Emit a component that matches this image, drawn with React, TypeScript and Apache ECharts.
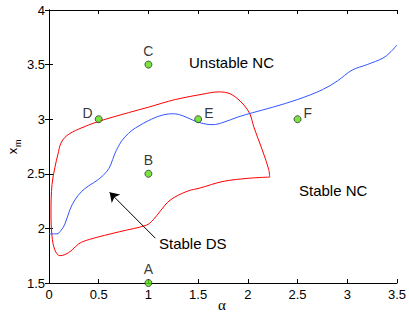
import React, { useEffect, useRef } from "react";
import * as echarts from "echarts";

const xTicks = [0, 0.5, 1, 1.5, 2, 2.5, 3, 3.5];
const yTicks = [1.5, 2, 2.5, 3, 3.5, 4];

const blueCurve: [number, number][] = [
  [0, 1.95], [0.08, 1.95], [0.12, 1.98], [0.16, 2.04], [0.21, 2.17], [0.26, 2.26],
  [0.33, 2.34], [0.4, 2.39], [0.5, 2.45], [0.58, 2.52], [0.62, 2.58], [0.66, 2.68],
  [0.73, 2.8], [0.8, 2.87], [0.87, 2.92], [1.03, 3.0], [1.15, 3.04], [1.25, 3.05],
  [1.35, 3.03], [1.45, 2.99], [1.55, 2.96], [1.65, 2.95], [1.75, 2.97], [1.9, 3.02],
  [2.05, 3.06], [2.25, 3.11], [2.5, 3.18], [2.75, 3.27], [2.9, 3.35], [3.05, 3.45],
  [3.2, 3.5], [3.36, 3.56], [3.43, 3.61], [3.5, 3.68],
];

const redCurve: [number, number][] = [
  [2.22, 2.47], [2.21, 2.54], [2.16, 2.68], [2.1, 2.83], [2.06, 2.93], [2.02, 3.05],
  [1.96, 3.13], [1.88, 3.2], [1.8, 3.24], [1.7, 3.25], [1.55, 3.23], [1.27, 3.18],
  [1.0, 3.11], [0.8, 3.06], [0.5, 2.98], [0.3, 2.91], [0.18, 2.85], [0.12, 2.78],
  [0.09, 2.68], [0.06, 2.56], [0.03, 2.4], [0.02, 2.15], [0.03, 1.93], [0.06, 1.8],
  [0.11, 1.75], [0.16, 1.76], [0.23, 1.8], [0.3, 1.86], [0.41, 1.9], [0.71, 1.97],
  [0.98, 2.03], [1.05, 2.08], [1.12, 2.16], [1.22, 2.26], [1.39, 2.34], [1.52, 2.37],
  [1.75, 2.43], [2.02, 2.46], [2.22, 2.47],
];

const pointNames = ["A", "B", "C", "D", "E", "F"];
const pointX = [1, 1, 1, 0.5, 1.5, 2.5];
const pointY = [1.5, 2.5, 3.5, 3, 3, 3];
const pointLabelSide = ["top", "top", "top", "left", "right", "right"];

const arrowFrom: [number, number] = [1.07, 1.91];
const arrowTo: [number, number] = [0.61, 2.33];

const FONT = "'Liberation Sans', Arial, Helvetica, sans-serif";

export default function App() {
  const ref = useRef<HTMLDivElement>(null);
  useEffect(() => {
    document.body.style.margin = "0";
    const chart = echarts.init(ref.current!, null, { renderer: "svg" });
    const axisCommon = {
      type: "value" as const,
      axisLine: { show: true, lineStyle: { color: "#000", width: 1 } },
      axisTick: { show: true, inside: true, length: 4, lineStyle: { color: "#000" } },
      splitLine: { show: false },
    };
    const option: any = {
      animation: false,
      grid: { left: 49, top: 10, width: 348, height: 273, containLabel: false },
      xAxis: [
        {
          ...axisCommon,
          min: xTicks[0],
          max: xTicks[xTicks.length - 1],
          interval: 0.5,
          position: "bottom",
          axisLabel: { color: "#000", fontSize: 13, fontFamily: FONT, margin: 5, showMinLabel: true, showMaxLabel: true },
        },
        {
          ...axisCommon,
          min: xTicks[0],
          max: xTicks[xTicks.length - 1],
          interval: 0.5,
          position: "top",
          axisLabel: { show: false },
        },
      ],
      yAxis: [
        {
          ...axisCommon,
          min: yTicks[0],
          max: yTicks[yTicks.length - 1],
          interval: 0.5,
          position: "left",
          axisLabel: { color: "#000", fontSize: 13, fontFamily: FONT, margin: 4, showMinLabel: true, showMaxLabel: true },
        },
        {
          ...axisCommon,
          min: yTicks[0],
          max: yTicks[yTicks.length - 1],
          interval: 0.5,
          position: "right",
          axisLabel: { show: false },
        },
      ],
      series: [
        {
          type: "line",
          data: redCurve,
          smooth: 0.35,
          symbol: "none",
          lineStyle: { color: "#ff0000", width: 1 },
          z: 2,
        },
        {
          type: "line",
          data: blueCurve,
          smooth: 0.35,
          symbol: "none",
          lineStyle: { color: "#3355ff", width: 1 },
          z: 2,
        },
        {
          type: "lines",
          coordinateSystem: "cartesian2d",
          data: [{ coords: [arrowFrom, arrowTo] }],
          symbol: ["none", "arrow"],
          symbolSize: [0, 9],
          lineStyle: { color: "#000", width: 1, opacity: 1 },
          z: 3,
        },
        {
          type: "scatter",
          symbolSize: 7,
          itemStyle: { color: "#55dd11", borderColor: "#333", borderWidth: 1 },
          data: pointNames.map((n, i) => ({
            value: [pointX[i], pointY[i]],
            name: n,
            label: {
              show: true,
              formatter: n,
              position: pointLabelSide[i],
              distance: pointLabelSide[i] === "top" ? 3 : 2,
              offset: pointLabelSide[i] === "top" ? [0, 0] : [0, -6],
              color: "#000",
              fontSize: 14,
              fontFamily: FONT,
            },
          })),
          z: 5,
        },
      ],
      graphic: [
        {
          type: "text",
          left: 189,
          top: 55,
          style: { text: "Unstable NC", fontSize: 15, fontFamily: FONT, fill: "#000" },
        },
        {
          type: "text",
          left: 299,
          top: 183,
          style: { text: "Stable NC", fontSize: 15, fontFamily: FONT, fill: "#000" },
        },
        {
          type: "text",
          left: 159,
          top: 236,
          style: { text: "Stable DS", fontSize: 15, fontFamily: FONT, fill: "#000" },
        },
        {
          type: "text",
          x: 222,
          y: 305,
          style: {
            text: "α",
            fontSize: 15,
            fontFamily: "'Liberation Serif', 'DejaVu Serif', serif",
            fill: "#000",
            align: "center",
            verticalAlign: "middle",
          },
        },
        {
          type: "group",
          x: 19,
          y: 151,
          rotation: Math.PI / 2,
          children: [
            {
              type: "text",
              x: 0,
              y: 0,
              style: {
                text: "x",
                fontSize: 13,
                fontFamily: FONT,
                fill: "#000",
                align: "center",
                verticalAlign: "bottom",
              },
            },
            {
              type: "text",
              x: 4,
              y: 3,
              style: {
                text: "m",
                fontSize: 9,
                fontFamily: FONT,
                fill: "#000",
                align: "left",
                verticalAlign: "bottom",
              },
            },
          ],
        },
      ],
    };
    chart.setOption(option);
    return () => chart.dispose();
  }, []);
  return <div ref={ref} style={{ width: 409, height: 318 }} />;
}
